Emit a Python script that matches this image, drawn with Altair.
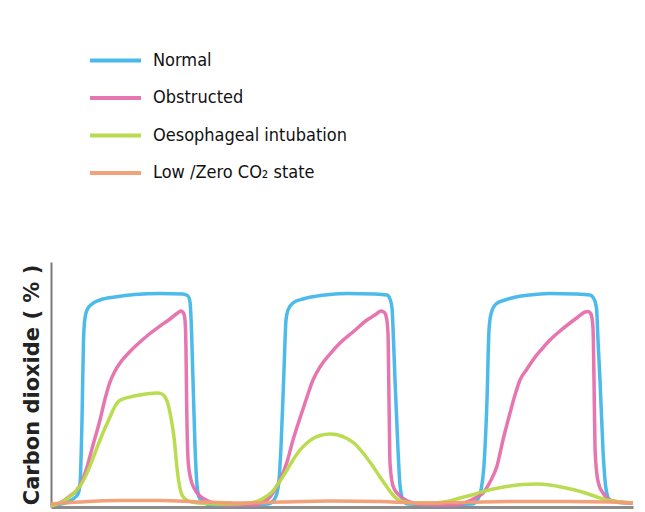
import altair as alt
import pandas as pd

# time (arbitrary units) and CO2 level (arbitrary units, 0 = baseline)
normal_t = [0,14,22,27,29,31,32.5,34,36,41,49,64,84,109,132,137,139,140.5,142,144,146,148,152,159,189,217,223,226,228,230,233,235,237,242,252,262,279,296,324,336,339,341,342.5,344,347,349,352,357,389,421,427,430,433,436,438,440,445,454,466,484,499,524,539,543,545.5,547,549,552,554,556,559,569,582]
normal_v = [2,4,8,13,23,87,167,189,197,203,207,210,212.5,213.5,213,211,205,177,127,61,22,10,5,2.5,2,3,7,14,27,60,137,187,197,204,208,210.3,212.5,213.5,213,212,208,199,167,127,57,22,7,3,2,3,8,17,42,107,177,193,203,207,210.3,212.5,213.5,213,212,208,199,167,127,57,27,13,7,4.5,4]

obstr_t = [0,9,19,26,31,36,42,49,54,59,64,69,79,89,99,109,119,126,130,132.5,134,135,135.8,137.3,140,143,149,156,162,174,204,212,219,225,229,236,242,249,256,262,269,279,289,302,316,324,330,333.5,335.5,337,338,339,342,347,352,359,369,404,416,425,432,439,446,452,459,464,469,476,482,490,499,509,519,527,534,537,540,542,543,544,546,548,552,559,569,582]
obstr_v = [1,4,11,17,26,40,62,87,108,125,136,144,155.5,165,173.5,181,188,193.5,196,194,187,157,94,44,27,19,11,6.5,4,2,2,5,10,19,27,45,67,89,110,127,140,153,164,175,187,192,196,194.5,189,174,107,44,21,13,8.5,5,2.5,2,5,9.5,14,25,41,67,94,112,127,138,147,157,167,176,184,190,195,195.5,193,179,127,60,32,22,14,7,5,4]

oeso_t = [0,11,22,29,36,42,49,54,59,63,67,72,79,89,99,106,111,114,117,120,123,126,128,131,135,141,155,179,199,209,216,222,229,236,242,249,256,262,269,279,287,296,304,312,321,329,336,342,347,352,364,382,396,409,421,432,445,459,472,486,499,509,522,536,546,556,569,582]
oeso_v = [1,5,13,21,34,49,67,79,90,99,105,108,110,112,113.5,114,113,110,103,89,70,39,24,12,7.5,5,3.5,3,4,7,11,16,26,37,47,57,64,68.5,71.5,73,72,68.5,63,54,42,30,20,12,7.5,5.5,4,4,5.5,9,12,15.5,18.5,21,22.5,23,22,20.3,17.5,13.5,10,7,5,4.3]

low_t = [0,29,69,109,149,189,229,279,329,369,409,469,519,559,582]
low_v = [3,5,6.5,6.5,5,4,5,6,5.5,4,4.5,5.5,5.5,5,4]

series_names = ["Normal", "Obstructed", "Oesophageal intubation", "Low /Zero CO\u2082 state"]
series_colors = ["#42b6ea", "#e56eac", "#b6da48", "#f29c72"]

frames = []
for name, t, v in [
    (series_names[0], normal_t, normal_v),
    (series_names[1], obstr_t, obstr_v),
    (series_names[2], oeso_t, oeso_v),
    (series_names[3], low_t, low_v),
]:
    frames.append(pd.DataFrame({"t": t, "v": v, "series": name}))
df = pd.concat(frames, ignore_index=True)

chart = alt.Chart(df).mark_line(
    strokeWidth=3.5, interpolate="monotone", clip=False, opacity=0.95
).encode(
    x=alt.X("t:Q", scale=alt.Scale(domain=[0, 582], nice=False, zero=False),
            axis=alt.Axis(title=None, labels=False, ticks=False, grid=False,
                          domainColor="#8c8c8c", domainWidth=3)),
    y=alt.Y("v:Q", scale=alt.Scale(domain=[0, 245], nice=False),
            axis=alt.Axis(title="Carbon dioxide ( % )", labels=False, ticks=False, grid=False,
                          domainColor="#7a7a7a", domainWidth=2,
                          titleFont="DejaVu Sans", titleFontSize=21, titleFontWeight="bold",
                          titleColor="#222222", titlePadding=9)),
    color=alt.Color("series:N",
                    scale=alt.Scale(domain=series_names, range=series_colors),
                    legend=alt.Legend(title=None, orient="none", legendX=37, legendY=-229,
                                      symbolType="stroke", symbolSize=2600,
                                      symbolStrokeWidth=4, labelOffset=10, labelLimit=400,
                                      labelFont="DejaVu Sans Condensed", labelFontSize=18,
                                      labelColor="#111111", rowPadding=0.5)),
    order=alt.Order("series:N"),
    detail="series:N",
).properties(
    width=582, height=245,
    autosize=alt.AutoSizeParams(type="none"),
    padding={"left": 43, "top": 254, "right": 4, "bottom": 2},
    background="white",
).configure_view(stroke=None)

chart.save("out.html", embed_options={"renderer": "svg", "actions": False})
